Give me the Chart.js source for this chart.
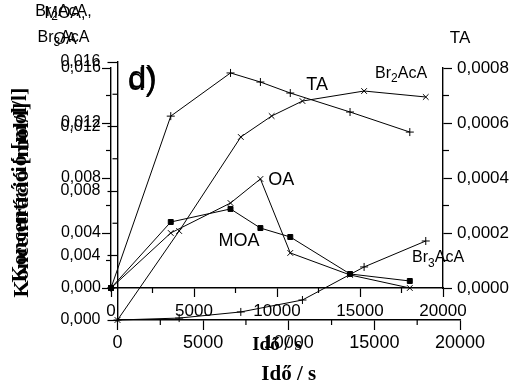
<!DOCTYPE html>
<html>
<head>
<meta charset="utf-8">
<script src="https://cdn.jsdelivr.net/npm/chart.js@4/dist/chart.umd.min.js"></script>
<style>
  html, body { margin: 0; padding: 0; background: #fff; }
  #wrap { position: relative; width: 513px; height: 385px; overflow: hidden; }
  #wrap canvas { position: absolute; left: 0; top: 0; }
</style>
</head>
<body>
<div id="wrap">
  <canvas id="brCanvas" width="513" height="385"></canvas>
  <canvas id="acidCanvas" width="513" height="385"></canvas>
</div>
<script>
// Sampling times (s)
const times = [0, 3600, 7200, 9000, 10800, 14400, 18000];
// Methyl-oxalic acid, oxalic acid (mol/l, left axis) and TA (mol/l, right axis)
const moa = [0, 0.0048, 0.00575, 0.00436, 0.00371, 0.00102, 0.00051];
const oa  = [0, 0.0040, 0.00618, 0.00793, 0.00255, 0.00095, 0.0];
const ta  = [0, 0.000625, 0.000782, 0.000749, 0.000709, 0.00064, 0.000567];
// Brominated acetic acids (mol/l)
const br2Times = [0, 3600, 7200, 9000, 10800, 14400, 18000];
const br2 = [0, 0.00552, 0.01135, 0.01265, 0.01358, 0.0142, 0.01383];
const br3Times = [0, 3600, 7200, 10800, 14400, 18000];
const br3 = [0, 0.00012, 0.0005, 0.00124, 0.00329, 0.0049];
// Axis ticks
const timeTicks = [0, 5000, 10000, 15000, 20000];
const concTicks = [0, 0.004, 0.008, 0.012, 0.016];
const taTicks = [0, 0.0002, 0.0004, 0.0006, 0.0008];

const SANS = '"Liberation Sans", Arial, sans-serif';
const SERIF = '"Liberation Serif", "Times New Roman", serif';

function pts(xs, ys) { return xs.map((x, i) => ({ x, y: ys[i] })); }
function mids(arr) { const m = []; for (let i = 0; i < arr.length - 1; i++) m.push((arr[i] + arr[i + 1]) / 2); return m; }
function comma(d) { return v => Number(v).toFixed(d).replace('.', ','); }

// short intermediate ticks between the labelled ones
const minorTicks = {
  id: 'minorTicks',
  afterDraw(chart, args, opts) {
    const ctx = chart.ctx;
    ctx.save();
    ctx.strokeStyle = '#000';
    ctx.lineWidth = 1.2;
    for (const id of Object.keys(opts.scales || {})) {
      const s = chart.scales[id];
      const spec = opts.scales[id];
      for (const v of mids(spec.values)) {
        const p = s.getPixelForValue(v);
        ctx.beginPath();
        if (s.position === 'bottom') { ctx.moveTo(p, s.top); ctx.lineTo(p, s.top + spec.len); }
        else if (s.position === 'left') { ctx.moveTo(s.right, p); ctx.lineTo(s.right - spec.len, p); }
        else { ctx.moveTo(s.left, p); ctx.lineTo(s.left + spec.len, p); }
        ctx.stroke();
      }
    }
    ctx.restore();
  }
};

// vertical axis title, drawn beside the left axis
const sideTitle = {
  id: 'sideTitle',
  afterDraw(chart, args, opts) {
    if (!opts.text) return;
    const ctx = chart.ctx;
    const a = chart.chartArea;
    ctx.save();
    ctx.fillStyle = '#000';
    ctx.font = `bold ${opts.size}px ${SERIF}`;
    ctx.translate(opts.x, (a.top + a.bottom) / 2 + opts.shift);
    ctx.rotate(-Math.PI / 2);
    ctx.textAlign = 'center';
    ctx.textBaseline = 'middle';
    ctx.fillText(opts.text, 0, 0);
    ctx.restore();
  }
};

// text with optional subscripts: parts = [[text, isSub], ...]
function drawRich(ctx, parts, x, y, size, align) {
  ctx.textBaseline = 'middle';
  ctx.textAlign = 'left';
  const fonts = parts.map(([t, sub]) => `${sub ? Math.round(size * 0.75) : size}px ${SANS}`);
  const widths = parts.map(([t], i) => { ctx.font = fonts[i]; return ctx.measureText(t).width; });
  const total = widths.reduce((a, b) => a + b, 0);
  let cx = align === 'center' ? x - total / 2 : x;
  parts.forEach(([t, sub], i) => {
    ctx.font = fonts[i];
    ctx.fillText(t, cx, sub ? y + size * 0.32 : y);
    cx += widths[i];
  });
}

const textLabels = {
  id: 'textLabels',
  afterDraw(chart, args, opts) {
    const ctx = chart.ctx;
    ctx.save();
    ctx.fillStyle = '#000';
    for (const L of opts.items || []) {
      let x, y;
      if (L.data) {
        x = chart.scales[L.xs].getPixelForValue(L.data[0]);
        y = chart.scales[L.ys].getPixelForValue(L.data[1]);
      } else {
        x = chart.chartArea.left + L.dx;
        y = chart.chartArea.top + L.dy;
      }
      drawRich(ctx, L.parts, x, y, L.size, L.align || 'left');
    }
    ctx.restore();
  }
};

function lineSet(label, data, style, radius, yAxisID) {
  return {
    label, data, yAxisID,
    borderColor: '#000', borderWidth: 1,
    backgroundColor: '#000',
    pointStyle: style, pointRadius: radius, pointHoverRadius: radius,
    pointBorderColor: '#000', pointBackgroundColor: '#000', pointBorderWidth: 1,
    tension: 0, fill: false, clip: false
  };
}

function timeAxis(height, tickLen, pad, fontSize, titleSize) {
  return {
    type: 'linear', position: 'bottom', min: 0, max: 20000,
    afterFit: s => { s.height = height; },
    afterBuildTicks: s => { s.ticks = timeTicks.map(v => ({ value: v })); },
    grid: { display: true, drawOnChartArea: false, drawTicks: true, tickLength: tickLen, tickColor: '#000', tickWidth: 1.2 },
    border: { display: true, color: '#000', width: 1.4 },
    ticks: { color: '#000', font: { family: SANS, size: fontSize }, padding: pad, maxRotation: 0, autoSkip: false, callback: v => String(v) },
    title: { display: true, text: 'Idő / s', color: '#000', font: { family: SERIF, size: titleSize, weight: 'bold', lineHeight: 1 }, padding: 0 }
  };
}

function concAxis(width, tickLen, pad) {
  return {
    type: 'linear', position: 'left', min: 0, max: 0.016,
    afterFit: s => { s.width = width; },
    afterBuildTicks: s => { s.ticks = concTicks.map(v => ({ value: v })); },
    grid: { display: true, drawOnChartArea: false, drawTicks: true, tickLength: tickLen, tickColor: '#000', tickWidth: 1.2 },
    border: { display: true, color: '#000', width: 1.4 },
    ticks: { color: '#000', font: { family: SANS, size: 16 }, padding: pad, autoSkip: false, callback: comma(3) }
  };
}

Chart.defaults.animation = false;

// Brominated acetic acids
new Chart(document.getElementById('brCanvas'), {
  type: 'line',
  data: {
    datasets: [
      lineSet('Br2AcA', pts(br2Times, br2), 'crossRot', 4, 'y'),
      lineSet('Br3AcA', pts(br3Times, br3), 'cross', 4, 'y')
    ]
  },
  options: {
    responsive: false, animation: false,
    layout: { padding: { left: 0, right: 53, top: 62, bottom: 0 } },
    plugins: {
      legend: { display: false }, tooltip: { enabled: false },
      minorTicks: { scales: { x: { values: timeTicks, len: 5 }, y: { values: concTicks, len: 5 } } },
      sideTitle: { text: 'Koncentráció [mol/l]', size: 22, x: 22, shift: 9 },
      textLabels: { items: [
        { parts: [['d)', false]], xs: 'x', ys: 'y', data: [600, 0.0148], size: 32 },
        { parts: [['Br', false], ['2', true], ['AcA', false]], xs: 'x', ys: 'y', data: [15040, 0.01526], size: 16 },
        { parts: [['Br', false], ['3', true], ['AcA', false]], xs: 'x', ys: 'y', data: [17200, 0.00384], size: 16 },
        { parts: [['Br', false], ['2', true], ['AcA,', false]], dx: -54, dy: -50, size: 16, align: 'center' },
        { parts: [['Br', false], ['3', true], ['AcA', false]], dx: -54, dy: -24, size: 16, align: 'center' }
      ] }
    },
    scales: {
      x: timeAxis(65, 10, 2, 18, 21),
      y: concAxis(117.5, 10, 7)
    }
  },
  plugins: [minorTicks, sideTitle, textLabels]
});

// MOA, OA and TA
new Chart(document.getElementById('acidCanvas'), {
  type: 'line',
  data: {
    datasets: [
      lineSet('TA', pts(times, ta), 'cross', 4, 'yTA'),
      lineSet('OA', pts(times, oa), 'crossRot', 4, 'y'),
      lineSet('MOA', pts(times, moa), 'rect', 3.5, 'y')
    ]
  },
  options: {
    responsive: false, animation: false,
    layout: { padding: { left: 0, right: 0, top: 68, bottom: 30.5 } },
    plugins: {
      legend: { display: false }, tooltip: { enabled: false },
      minorTicks: { scales: { x: { values: timeTicks, len: 5 }, y: { values: concTicks, len: 5 }, yTA: { values: taTicks, len: 6 } } },
      sideTitle: { text: 'Koncentráció [mol/l]', size: 22, x: 20, shift: 7 },
      textLabels: { items: [
        { parts: [['d)', false]], xs: 'x', ys: 'y', data: [1050, 0.0152], size: 32 },
        { parts: [['TA', false]], xs: 'x', ys: 'y', data: [11760, 0.01476], size: 18 },
        { parts: [['OA', false]], xs: 'x', ys: 'y', data: [9470, 0.00785], size: 18 },
        { parts: [['MOA', false]], xs: 'x', ys: 'y', data: [6470, 0.00342], size: 18 },
        { parts: [['MOA,', false]], dx: -46, dy: -54, size: 16, align: 'center' },
        { parts: [['OA', false]], dx: -46, dy: -28, size: 16, align: 'center' },
        { parts: [['TA', false]], dx: 349, dy: -30, size: 17, align: 'center' }
      ] }
    },
    scales: {
      x: timeAxis(66.5, 9, 4, 17, 19),
      y: concAxis(111, 9, 1),
      yTA: {
        type: 'linear', position: 'right', min: 0, max: 0.0008,
        afterFit: s => { s.width = 70; },
        afterBuildTicks: s => { s.ticks = taTicks.map(v => ({ value: v })); },
        grid: { display: true, drawOnChartArea: false, drawTicks: true, tickLength: 9, tickColor: '#000', tickWidth: 1.2 },
        border: { display: true, color: '#000', width: 1.4 },
        ticks: { color: '#000', font: { family: SANS, size: 17 }, padding: 5, autoSkip: false, callback: comma(4) }
      }
    }
  },
  plugins: [minorTicks, sideTitle, textLabels]
});
</script>
</body>
</html>
